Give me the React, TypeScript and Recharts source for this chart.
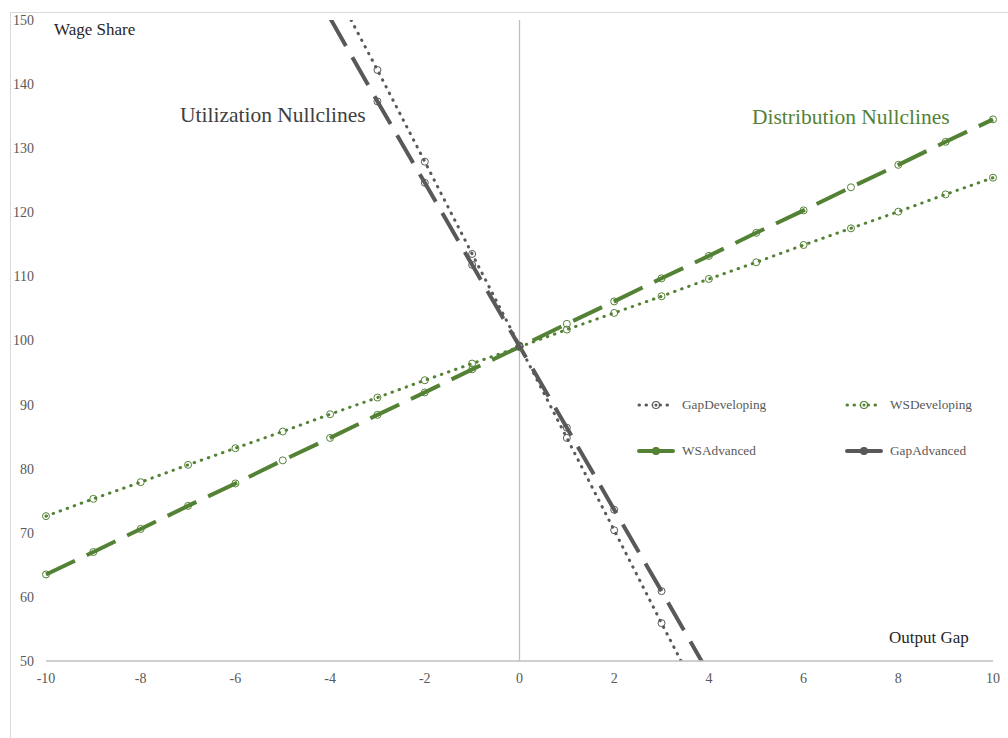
import React from 'react'
import {
  LineChart,
  Line,
  XAxis,
  YAxis,
  ReferenceLine,
  Legend
} from 'recharts'

const GREEN = '#548235'
const GRAY = '#595959'
const FONT = '"Liberation Serif", "DejaVu Serif", serif'

// output gap values along the x axis
const outputGap = [-10, -9, -8, -7, -6, -5, -4, -3, -2, -1, 0, 1, 2, 3, 4, 5, 6, 7, 8, 9, 10]

// distribution nullclines (wage share)
const wsAdvanced = [63.5, 67.0, 70.6, 74.2, 77.7, 81.3, 84.8, 88.4, 91.9, 95.5, 99.0, 102.6, 106.1, 109.7, 113.2, 116.8, 120.3, 123.9, 127.4, 131.0, 134.5]
const wsDeveloping = [72.6, 75.3, 77.9, 80.6, 83.2, 85.8, 88.5, 91.1, 93.8, 96.4, 99.0, 101.7, 104.3, 106.9, 109.6, 112.2, 114.9, 117.5, 120.1, 122.8, 125.4]

// utilization nullclines, only the steep middle part is inside the plot
const gapRange = [-4, -3, -2, -1, 0, 1, 2, 3, 4]
const gapDeveloping = [156.2, 142.2, 127.9, 113.5, 99.2, 84.8, 70.4, 55.9, 41.6]
const gapAdvanced = [150.3, 137.3, 124.6, 111.8, 99.1, 86.4, 73.6, 60.9, 48.0]

const xTicks = [-10, -8, -6, -4, -2, 0, 2, 4, 6, 8, 10]
const yTicks = [50, 60, 70, 80, 90, 100, 110, 120, 130, 140, 150]

const data = outputGap.map((x, i) => {
  const g = gapRange.indexOf(x)
  return {
    x,
    wsAdvanced: wsAdvanced[i],
    wsDeveloping: wsDeveloping[i],
    gapDeveloping: g >= 0 ? gapDeveloping[g] : undefined,
    gapAdvanced: g >= 0 ? gapAdvanced[g] : undefined
  }
})

const DOTTED = '0.5 7'
const LONG_DASH = '32 13'

const legendItems = [
  { name: 'GapDeveloping', color: GRAY, dotted: true },
  { name: 'WSDeveloping', color: GREEN, dotted: true },
  { name: 'WSAdvanced', color: GREEN, dotted: false },
  { name: 'GapAdvanced', color: GRAY, dotted: false }
]

// open circle marker, skipped when the point falls outside the plot
const makeDot = (color: string) => (props: any) => {
  const { cx, cy, value, index } = props
  if (value == null || value > 149.5 || value < 50.5) return <g key={index} />
  return (
    <circle
      key={index}
      cx={cx}
      cy={cy}
      r={3.5}
      fill="none"
      stroke={color}
      strokeWidth={1}
    />
  )
}

const LegendIcon = ({ color, dotted }: { color: string; dotted: boolean }) => (
  <svg width={38} height={12} style={{ display: 'block' }}>
    <line
      x1={2}
      y1={6}
      x2={36}
      y2={6}
      stroke={color}
      strokeWidth={dotted ? 3 : 4}
      strokeLinecap="round"
      strokeDasharray={dotted ? '0.5 6.5' : undefined}
    />
    <circle cx={19} cy={6} r={3.5} fill={dotted ? 'white' : color} stroke={color} strokeWidth={1.2} />
    {dotted && <circle cx={19} cy={6} r={1.5} fill={color} />}
  </svg>
)

const renderLegend = () => (
  <div style={{ position: 'relative', width: 360, height: 80, fontFamily: FONT }}>
    {legendItems.map((item, i) => (
      <div
        key={item.name}
        style={{
          position: 'absolute',
          left: i % 2 === 0 ? 7 : 215,
          top: i < 2 ? 9 : 55,
          display: 'flex',
          alignItems: 'center',
          fontSize: 13.3,
          color: GRAY
        }}
      >
        <LegendIcon color={item.color} dotted={item.dotted} />
        <span style={{ marginLeft: 7 }}>{item.name}</span>
      </div>
    ))}
  </div>
)

export default function App() {
  const tickStyle = { fontSize: 14, fill: GRAY, fontFamily: FONT }

  return (
    <div style={{ position: 'absolute', left: 0, top: 0, width: 1008, height: 738, background: '#fff', overflow: 'hidden' }}>
      {/* chart frame, partly cut off by the picture edge */}
      <div
        style={{
          position: 'absolute',
          left: 10,
          top: 12,
          width: 1100,
          height: 800,
          borderLeft: '1px solid #d9d9d9',
          borderTop: '1px solid #d9d9d9'
        }}
      />

      <LineChart
        width={1008}
        height={738}
        data={data}
        margin={{ top: 20, right: 15, bottom: 47, left: 0 }}
        style={{ position: 'absolute', left: 0, top: 0 }}
      >
        <XAxis
          dataKey="x"
          type="number"
          domain={[-10, 10]}
          ticks={xTicks}
          tickLine={false}
          tickSize={0}
          tickMargin={12}
          axisLine={{ stroke: '#bfbfbf', strokeWidth: 1.3 }}
          tick={tickStyle}
          height={30}
        />
        <YAxis
          type="number"
          domain={[50, 150]}
          ticks={yTicks}
          allowDataOverflow
          axisLine={false}
          tickLine={false}
          tickSize={0}
          tickMargin={12}
          tick={tickStyle}
          width={46}
        />
        <ReferenceLine x={0} stroke="#bfbfbf" strokeWidth={1.3} />

        <Line
          dataKey="wsDeveloping"
          name="WSDeveloping"
          stroke={GREEN}
          strokeWidth={3}
          strokeDasharray={DOTTED}
          strokeLinecap="round"
          dot={makeDot(GREEN)}
          activeDot={false}
          isAnimationActive={false}
        />
        <Line
          dataKey="wsAdvanced"
          name="WSAdvanced"
          stroke={GREEN}
          strokeWidth={4}
          strokeDasharray={LONG_DASH}
          dot={makeDot(GREEN)}
          activeDot={false}
          isAnimationActive={false}
        />
        <Line
          dataKey="gapDeveloping"
          name="GapDeveloping"
          stroke={GRAY}
          strokeWidth={3}
          strokeDasharray={DOTTED}
          strokeLinecap="round"
          dot={makeDot(GRAY)}
          activeDot={false}
          isAnimationActive={false}
        />
        <Line
          dataKey="gapAdvanced"
          name="GapAdvanced"
          stroke={GRAY}
          strokeWidth={4}
          strokeDasharray={LONG_DASH}
          dot={makeDot(GRAY)}
          activeDot={false}
          isAnimationActive={false}
        />

        <Legend
          layout="horizontal"
          verticalAlign="middle"
          align="center"
          content={renderLegend}
          wrapperStyle={{ left: 630, top: 388, width: 360 }}
        />
      </LineChart>

      {/* axis titles and annotations */}
      <div style={{ position: 'absolute', left: 54, top: 21, fontFamily: FONT, fontSize: 17, lineHeight: 1, color: '#262626' }}>
        Wage Share
      </div>
      <div style={{ position: 'absolute', left: 889, top: 629, fontFamily: FONT, fontSize: 17, lineHeight: 1, color: '#262626' }}>
        Output Gap
      </div>
      <div style={{ position: 'absolute', left: 180, top: 105, fontFamily: FONT, fontSize: 21.5, lineHeight: 1, color: '#404040' }}>
        Utilization Nullclines
      </div>
      <div style={{ position: 'absolute', left: 752, top: 107, fontFamily: FONT, fontSize: 21.5, lineHeight: 1, color: GREEN }}>
        Distribution Nullclines
      </div>
    </div>
  )
}
